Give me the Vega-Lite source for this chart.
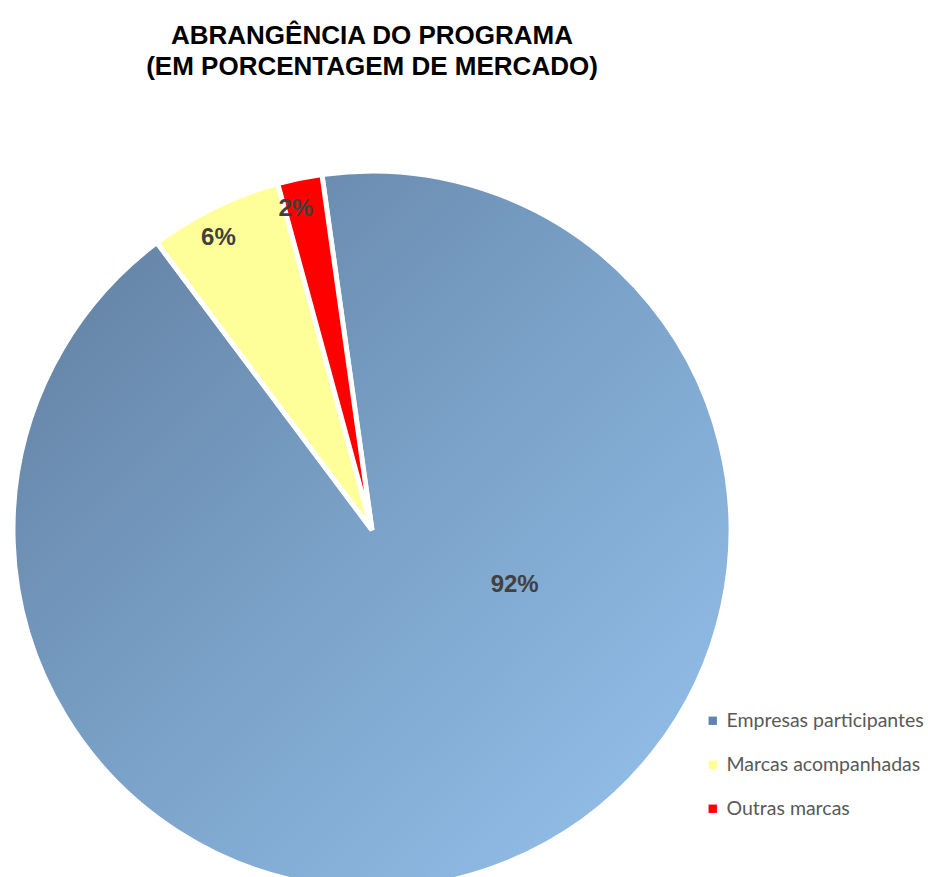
{
  "$schema": "https://vega.github.io/schema/vega-lite/v6.json",
  "autosize": "none",
  "padding": {"top": 183, "left": 0, "right": 184, "bottom": 0},
  "width": 744,
  "height": 694,
  "background": "white",
  "title": {
    "text": ["ABRANGÊNCIA DO PROGRAMA", "(EM PORCENTAGEM DE MERCADO)"],
    "font": "Liberation Sans",
    "fontSize": 26,
    "fontWeight": "bold",
    "color": "#000000",
    "anchor": "middle",
    "lineHeight": 31,
    "offset": 81
  },
  "data": {
    "values": [
      {"cat": "Empresas participantes", "pct": 92, "label": "92%"},
      {"cat": "Marcas acompanhadas", "pct": 6, "label": "6%"},
      {"cat": "Outras marcas", "pct": 2, "label": "2%"}
    ]
  },
  "encoding": {
    "theta": {"field": "pct", "type": "quantitative", "stack": true, "scale": {"range": [-0.14, 6.1432]}},
    "order": {"field": "cat", "type": "nominal", "sort": "ascending"}
  },
  "layer": [
    {
      "mark": {"type": "arc", "outerRadius": 359, "stroke": "white", "strokeWidth": 5},
      "encoding": {
        "color": {
          "condition": {
            "test": "datum.cat == 'Empresas participantes'",
            "value": {"gradient": "linear", "x1": 0, "y1": 0, "x2": 1, "y2": 1,
              "stops": [{"offset": 0, "color": "#5f7c9c"}, {"offset": 0.5, "color": "#7ba2c9"}, {"offset": 1, "color": "#97c4ee"}]}
          },
          "field": "cat",
          "type": "nominal",
          "scale": {"domain": ["Empresas participantes", "Marcas acompanhadas", "Outras marcas"], "range": ["#5f84ad", "#ffff99", "#ff0000"]},
          "legend": {
            "title": null,
            "orient": "none",
            "legendX": 703,
            "legendY": 528,
            "symbolType": "square",
            "symbolSize": 70,
            "symbolStrokeWidth": 0,
            "labelFont": "Lato",
            "labelFontSize": 19.5,
            "labelColor": "#595959",
            "labelOffset": 4,
            "labelLimit": 0,
            "rowPadding": 23
          }
        }
      }
    },
    {
      "mark": {"type": "text", "radius": 330, "thetaOffset": -0.03, "font": "Liberation Sans", "fontSize": 24, "fontWeight": "bold", "fill": "#404040"},
      "encoding": {
        "text": {"field": "label"},
        "opacity": {"condition": {"test": "datum.cat != 'Empresas participantes'", "value": 1}, "value": 0}
      }
    },
    {
      "mark": {"type": "text", "radius": 153, "thetaOffset": -0.81, "font": "Liberation Sans", "fontSize": 24, "fontWeight": "bold", "fill": "#404040"},
      "encoding": {
        "text": {"field": "label"},
        "opacity": {"condition": {"test": "datum.cat == 'Empresas participantes'", "value": 1}, "value": 0}
      }
    }
  ]
}
